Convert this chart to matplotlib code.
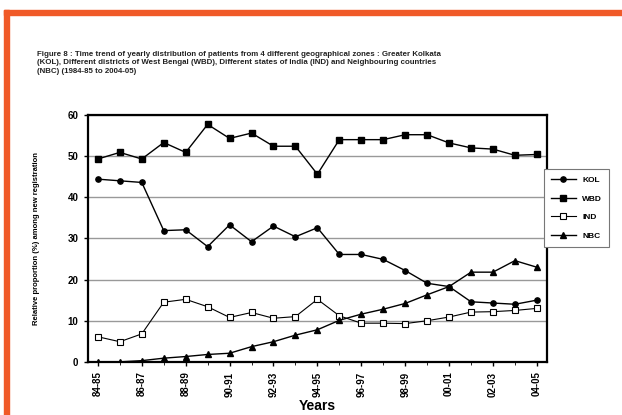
import matplotlib
matplotlib.use("Agg")
import matplotlib.pyplot as plt
import matplotlib.patches as mpatches

years = ["84-85", "85-86", "86-87", "87-88", "88-89", "89-90", "90-91",
         "91-92", "92-93", "93-94", "94-95", "95-96", "96-97", "97-98",
         "98-99", "99-00", "00-01", "01-02", "02-03", "03-04", "04-05"]

kol = [44.4, 44.0, 43.6, 31.9, 32.1, 28.0, 33.3, 29.2, 33.0, 30.4, 32.6,
       26.1, 26.1, 24.9, 22.2, 19.1, 18.3, 14.6, 14.3, 14.0, 15.0]
wbd = [49.3, 50.9, 49.3, 53.3, 50.9, 57.7, 54.3, 55.6, 52.4, 52.4, 45.6,
       54.0, 54.0, 54.0, 55.2, 55.2, 53.2, 52.0, 51.7, 50.2, 50.4]
ind = [6.1, 4.9, 6.8, 14.5, 15.2, 13.4, 10.8, 12.0, 10.6, 11.0, 15.2,
       11.2, 9.4, 9.4, 9.3, 10.0, 10.9, 12.1, 12.2, 12.5, 13.0]
nbc = [0.0, 0.0, 0.3, 0.9, 1.3, 1.8, 2.1, 3.7, 4.9, 6.5, 7.8,
       10.1, 11.6, 12.8, 14.2, 16.3, 18.3, 21.8, 21.8, 24.6, 23.0]

title = ("Figure 8 : Time trend of yearly distribution of patients from 4 different geographical zones : Greater Kolkata\n"
         "(KOL), Different districts of West Bengal (WBD), Different states of India (IND) and Neighbouring countries\n"
         "(NBC) (1984-85 to 2004-05)")

fig = plt.figure(figsize=(6.22, 4.15), dpi=100)
fig.patch.set_facecolor("white")

# orange frame on top and left
fig.patches.append(mpatches.Rectangle((0.007, 0.965), 0.993, 0.012, transform=fig.transFigure,
                                      color="#f05a28", zorder=0))
fig.patches.append(mpatches.Rectangle((0.007, 0.0), 0.008, 0.977, transform=fig.transFigure,
                                      color="#f05a28", zorder=0))

fig.text(0.06, 0.878, title, fontsize=5.7, fontweight="bold", family="Liberation Sans",
         va="top", ha="left", linespacing=1.3, color="#222222")

ax = fig.add_axes([0.1415, 0.128, 0.7375, 0.595])
x = list(range(len(years)))

ax.plot(x, kol, color="black", lw=1, marker="o", ms=3.8, mfc="black", label="KOL", zorder=3)
ax.plot(x, wbd, color="black", lw=1, marker="s", ms=4.2, mfc="black", label="WBD", zorder=3)
ax.plot(x, ind, color="black", lw=0.8, marker="s", ms=4.8, mfc="white", mew=0.8, label="IND", zorder=3)
ax.plot(x, nbc, color="black", lw=1, marker="^", ms=4, mfc="black", label="NBC", zorder=3)

ax.set_xlim(-0.45, 20.45)
ax.set_ylim(0, 60)
ax.set_yticks(range(0, 61, 10))
ax.yaxis.grid(True, color="#999999", lw=1)
ax.set_axisbelow(True)
ax.set_xticks(x[::2])
ax.set_xticklabels(years[::2], rotation=90, fontsize=7, fontweight="bold", family="Liberation Sans")
ax.set_xticks(x, minor=True)
for lab in ax.get_yticklabels():
    lab.set_fontsize(7)
    lab.set_fontweight("bold")
    lab.set_family("Liberation Sans")
ax.tick_params(axis="both", length=3, width=1, pad=4)
ax.tick_params(axis="x", which="minor", length=2)
for s in ax.spines.values():
    s.set_linewidth(1.6)

ax.set_ylabel("Relative proportion (%) among new registration", fontsize=5.5, fontweight="bold",
              family="Liberation Sans", labelpad=20)
fig.text(0.51, 0.005, "Years", fontsize=10, fontweight="bold", family="Liberation Sans",
         ha="center", va="bottom")

leg = ax.legend(loc="upper left", bbox_to_anchor=(0.868, 0.602), bbox_transform=fig.transFigure,
                prop={"family": "Liberation Sans", "size": 6, "weight": "bold"},
                fancybox=False, edgecolor="#777777", framealpha=1, handlelength=3,
                labelspacing=1.3, borderpad=0.8)
leg.get_frame().set_linewidth(0.8)

fig.savefig("out.png", dpi=100, facecolor="white")
